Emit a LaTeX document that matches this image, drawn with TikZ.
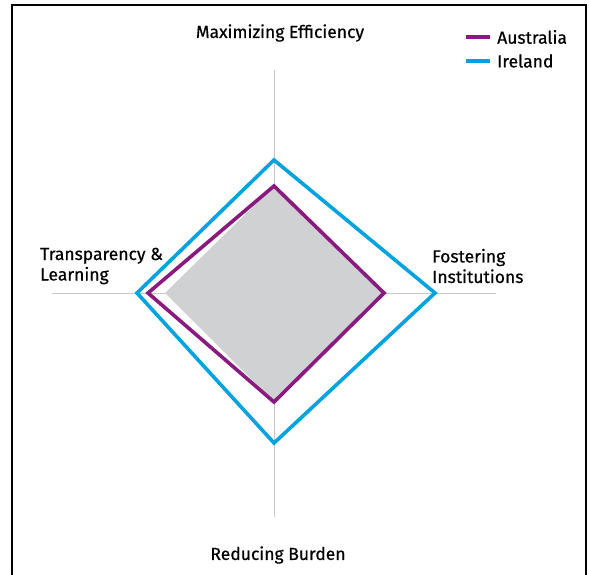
\documentclass[tikz,border=0pt]{standalone}
\usepackage{fontspec}
\setmainfont{Fira Sans}[FakeBold=0.5]
\usepackage{tikz}

\definecolor{ausPurple}{RGB}{139,26,128}
\definecolor{irlBlue}{RGB}{0,163,224}
\definecolor{areaGray}{RGB}{208,209,211}
\definecolor{axisGray}{RGB}{200,200,200}

\tikzset{
  axislabel/.style={font=\fontsize{17.5}{20.5}\selectfont, text=black, inner sep=0pt},
  sideLabel/.style={axislabel, align=left, anchor=west},
  country/.style={line width=3.6pt, line join=miter},
}

\begin{document}
\begin{tikzpicture}[x=1pt,y=-1pt]

        \useasboundingbox (0,0) rectangle (589,575);

        % Frame
        \draw[line width=1.3pt] (12,575) -- (12,5) -- (586,5) -- (586,575);

        % Axis
        \coordinate (o) at (274,293);
        \coordinate (axN) at (274,70);
        \coordinate (axS) at (274,517);
        \coordinate (axW) at (52,293);
        \coordinate (axE) at (496,293);
        \draw[axisGray, line width=0.9pt] (axN) -- (axS);
        \draw[axisGray, line width=0.9pt] (axW) -- (axE);

        % Shaded area
        \fill[areaGray] (274,186) -- (384,293) -- (274,402) -- (165,293) -- cycle;

        % Australia
        \coordinate (auN) at (274,186);
        \coordinate (auE) at (384,293);
        \coordinate (auS) at (274,402);
        \coordinate (auW) at (148,293);
        \draw[country, ausPurple] (auN) -- (auE) -- (auS) -- (auW) -- cycle;

        % Ireland
        \coordinate (irN) at (274,160);
        \coordinate (irE) at (435,293);
        \coordinate (irS) at (274,443);
        \coordinate (irW) at (137,293);
        \draw[country, irlBlue] (irN) -- (irE) -- (irS) -- (irW) -- cycle;

        % Labels
        \node[axislabel] (efficiency) at (280,33) {Maximizing Efficiency};
        \node[axislabel] (burden) at (278,555) {Reducing Burden};
        \node[sideLabel] (transparency) at (40,266) {Transparency \&\\Learning};
        \node[sideLabel] (fostering) at (432,266) {Fostering\\Institutions};

        % Legend
        \coordinate (lgA1) at (466,37);
        \coordinate (lgA2) at (490,37);
        \coordinate (lgB1) at (466,61);
        \coordinate (lgB2) at (490,61);
        \draw[ausPurple, line width=3.6pt] (lgA1) -- (lgA2);
        \draw[irlBlue, line width=3.6pt] (lgB1) -- (lgB2);
        \node[axislabel, anchor=west] (australia) at (497,37) {Australia};
        \node[axislabel, anchor=west] (ireland) at (497,61) {Ireland};

\end{tikzpicture}
\end{document}
